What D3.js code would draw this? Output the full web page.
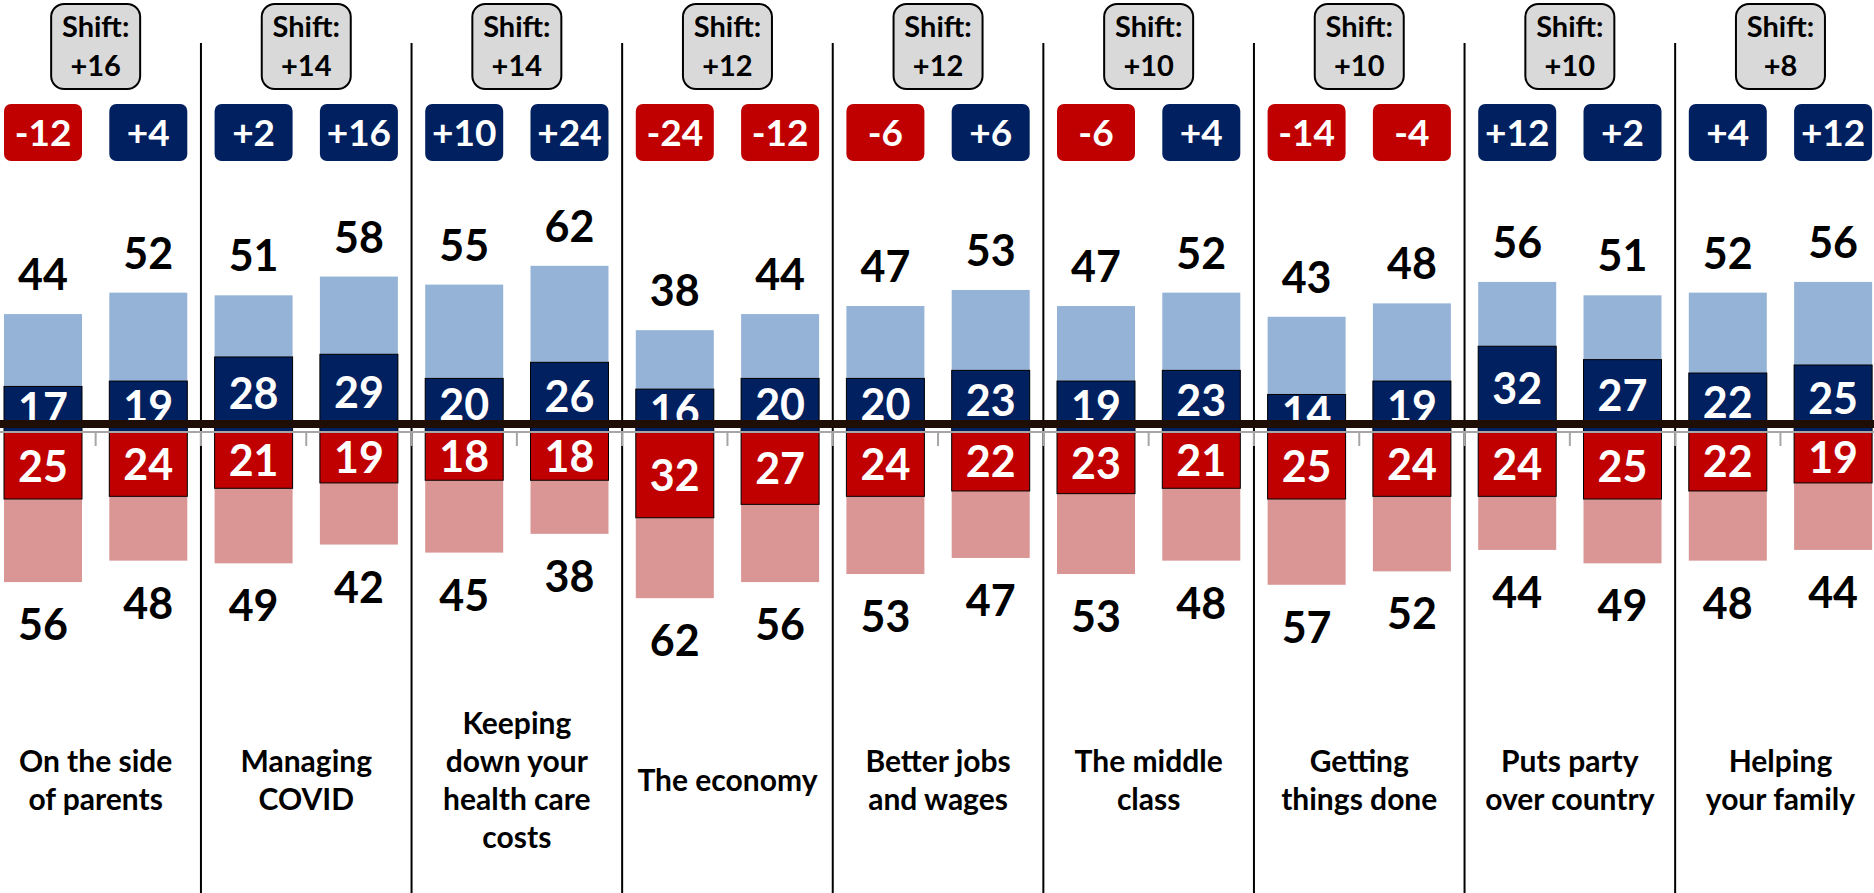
<!DOCTYPE html>
<html>
<head>
<meta charset="utf-8">
<script src="https://cdn.jsdelivr.net/npm/d3@7"></script>
<style>
  html, body { margin: 0; padding: 0; background: #fff; }
  svg { display: block; }
  text { font-family: Lato, "Open Sans", sans-serif; font-weight: 700; }
</style>
</head>
<body>
<svg id="chart" width="1874" height="893"></svg>
<script>
// ---------- data ----------
const categories = [
  ["On the side", "of parents"],
  ["Managing", "COVID"],
  ["Keeping", "down your", "health care", "costs"],
  ["The economy"],
  ["Better jobs", "and wages"],
  ["The middle", "class"],
  ["Getting", "things done"],
  ["Puts party", "over country"],
  ["Helping", "your family"]
];
const shift = [16, 14, 14, 12, 12, 10, 10, 10, 8];

// first bar of each pair
const favTotal1    = [44, 51, 55, 38, 47, 47, 43, 56, 52];
const favStrong1   = [17, 28, 20, 16, 20, 19, 14, 32, 22];
const unfavStrong1 = [25, 21, 18, 32, 24, 23, 25, 24, 22];
const unfavTotal1  = [56, 49, 45, 62, 53, 53, 57, 44, 48];
const net1         = [-12, 2, 10, -24, -6, -6, -14, 12, 4];

// second bar of each pair
const favTotal2    = [52, 58, 62, 44, 53, 52, 48, 51, 56];
const favStrong2   = [19, 29, 26, 20, 23, 23, 19, 27, 25];
const unfavStrong2 = [24, 19, 18, 27, 22, 21, 24, 25, 19];
const unfavTotal2  = [48, 42, 38, 56, 47, 48, 52, 49, 44];
const net2         = [4, 16, 24, -12, 6, 4, -4, 2, 12];

// ---------- layout ----------
const W = 1874, H = 893;
const zeroY = 432;
const colors = {
  lightBlue: "#95b3d7", navy: "#002060", red: "#c00000", pink: "#da9694",
  shiftFill: "#d9d9d9", thick: "#1e0e05", axis: "#a6a6a6"
};

const rows = [];
categories.forEach((c, i) => {
  rows.push({g: i, k: 0, favT: favTotal1[i], favS: favStrong1[i], unS: unfavStrong1[i], unT: unfavTotal1[i], net: net1[i]});
  rows.push({g: i, k: 1, favT: favTotal2[i], favS: favStrong2[i], unS: unfavStrong2[i], unT: unfavTotal2[i], net: net2[i]});
});

const step = 105.3;
const r0 = -9.65;
const x0 = d3.scaleBand().domain(d3.range(categories.length)).range([r0, r0 + step * 2 * categories.length]).padding(0);
const x1 = d3.scaleBand().domain([0, 1]).range([0, x0.bandwidth()]).paddingInner(27.3 / step).paddingOuter(27.3 / step / 2);
const y = d3.scaleLinear().domain([-100, 100]).range([zeroY + 268, zeroY - 268]);

const svg = d3.select("#chart");
svg.append("rect").attr("width", W).attr("height", H).attr("fill", "#fff");

// separators between groups
svg.append("g").selectAll("line")
  .data(d3.range(1, categories.length))
  .join("line")
  .attr("x1", g => x0(g)).attr("x2", g => x0(g))
  .attr("y1", 43).attr("y2", H)
  .attr("stroke", "#000").attr("stroke-width", 2);

const bx = d => x0(d.g) + x1(d.k);
const bw = x1.bandwidth();

const bars = svg.append("g");
// light blue totals
bars.selectAll(".favT").data(rows).join("rect")
  .attr("x", bx).attr("width", bw)
  .attr("y", d => y(d.favT)).attr("height", d => y(0) - y(d.favT))
  .attr("fill", colors.lightBlue);
// navy strong
bars.selectAll(".favS").data(rows).join("rect")
  .attr("x", bx).attr("width", bw)
  .attr("y", d => y(d.favS)).attr("height", d => y(0) - y(d.favS))
  .attr("fill", colors.navy).attr("stroke", "#000").attr("stroke-width", 1);
// pink totals
bars.selectAll(".unT").data(rows).join("rect")
  .attr("x", bx).attr("width", bw)
  .attr("y", y(0)).attr("height", d => y(-d.unT) - y(0))
  .attr("fill", colors.pink);
// red strong
bars.selectAll(".unS").data(rows).join("rect")
  .attr("x", bx).attr("width", bw)
  .attr("y", y(0)).attr("height", d => y(-d.unS) - y(0))
  .attr("fill", colors.red).attr("stroke", "#000").attr("stroke-width", 1);

// inner labels
const labels = svg.append("g").attr("text-anchor", "middle");
labels.selectAll(".inFav").data(rows).join("text")
  .attr("x", d => bx(d) + bw / 2)
  .attr("y", d => (y(d.favS) + y(0)) / 2 + 15)
  .attr("font-size", 43).attr("fill", "#fff")
  .text(d => d.favS);
labels.selectAll(".inUn").data(rows).join("text")
  .attr("x", d => bx(d) + bw / 2)
  .attr("y", d => (y(-d.unS) + y(0)) / 2 + 16)
  .attr("font-size", 43).attr("fill", "#fff")
  .text(d => d.unS);
// outer totals
labels.selectAll(".outFav").data(rows).join("text")
  .attr("x", d => bx(d) + bw / 2)
  .attr("y", d => y(d.favT) - 24)
  .attr("font-size", 43).attr("fill", "#000")
  .text(d => d.favT);
labels.selectAll(".outUn").data(rows).join("text")
  .attr("x", d => bx(d) + bw / 2)
  .attr("y", d => y(-d.unT) + 58)
  .attr("font-size", 43).attr("fill", "#000")
  .text(d => d.unT);

// axis line + ticks
const axisG = svg.append("g");
axisG.append("line").attr("x1", 0).attr("x2", W).attr("y1", zeroY).attr("y2", zeroY)
  .attr("stroke", colors.axis).attr("stroke-width", 2);
axisG.selectAll(".tick").data(d3.range(1, categories.length * 2))
  .join("line")
  .attr("x1", i => r0 + step * i).attr("x2", i => r0 + step * i)
  .attr("y1", zeroY).attr("y2", zeroY + 14)
  .attr("stroke", colors.axis).attr("stroke-width", 2);
// thick baseline
svg.append("line").attr("x1", 0).attr("x2", W).attr("y1", 424).attr("y2", 424)
  .attr("stroke", colors.thick).attr("stroke-width", 8);

// net badges
const badges = svg.append("g");
badges.selectAll("rect").data(rows).join("rect")
  .attr("x", bx).attr("width", bw)
  .attr("y", 104).attr("height", 57).attr("rx", 7)
  .attr("fill", d => d.net < 0 ? colors.red : colors.navy);
badges.selectAll("text").data(rows).join("text")
  .attr("x", d => bx(d) + bw / 2).attr("y", 146)
  .attr("text-anchor", "middle").attr("font-size", 37).attr("fill", "#fff")
  .text(d => (d.net > 0 ? "+" : "") + d.net);

// shift boxes
const gc = g => x0(g) + x0.bandwidth() / 2;
const shiftG = svg.append("g");
shiftG.selectAll("rect").data(shift).join("rect")
  .attr("x", (d, i) => gc(i) - 44.5).attr("width", 89)
  .attr("y", 4).attr("height", 85).attr("rx", 13)
  .attr("fill", colors.shiftFill).attr("stroke", "#000").attr("stroke-width", 2);
shiftG.selectAll(".s1").data(shift).join("text")
  .attr("x", (d, i) => gc(i)).attr("y", 37)
  .attr("text-anchor", "middle").attr("font-size", 29).attr("fill", "#000")
  .text("Shift:");
shiftG.selectAll(".s2").data(shift).join("text")
  .attr("x", (d, i) => gc(i)).attr("y", 76)
  .attr("text-anchor", "middle").attr("font-size", 29).attr("fill", "#000")
  .text(d => "+" + d);

// category labels
const lineH = 38;
const catG = svg.append("g").attr("text-anchor", "middle");
categories.forEach((lines, i) => {
  const t = catG.append("text").attr("x", gc(i)).attr("font-size", 30).attr("fill", "#000");
  const firstBase = 791 - (lines.length - 1) * lineH / 2;
  lines.forEach((ln, j) => {
    t.append("tspan").attr("x", gc(i)).attr("y", firstBase + j * lineH).text(ln);
  });
});
</script>
</body>
</html>
